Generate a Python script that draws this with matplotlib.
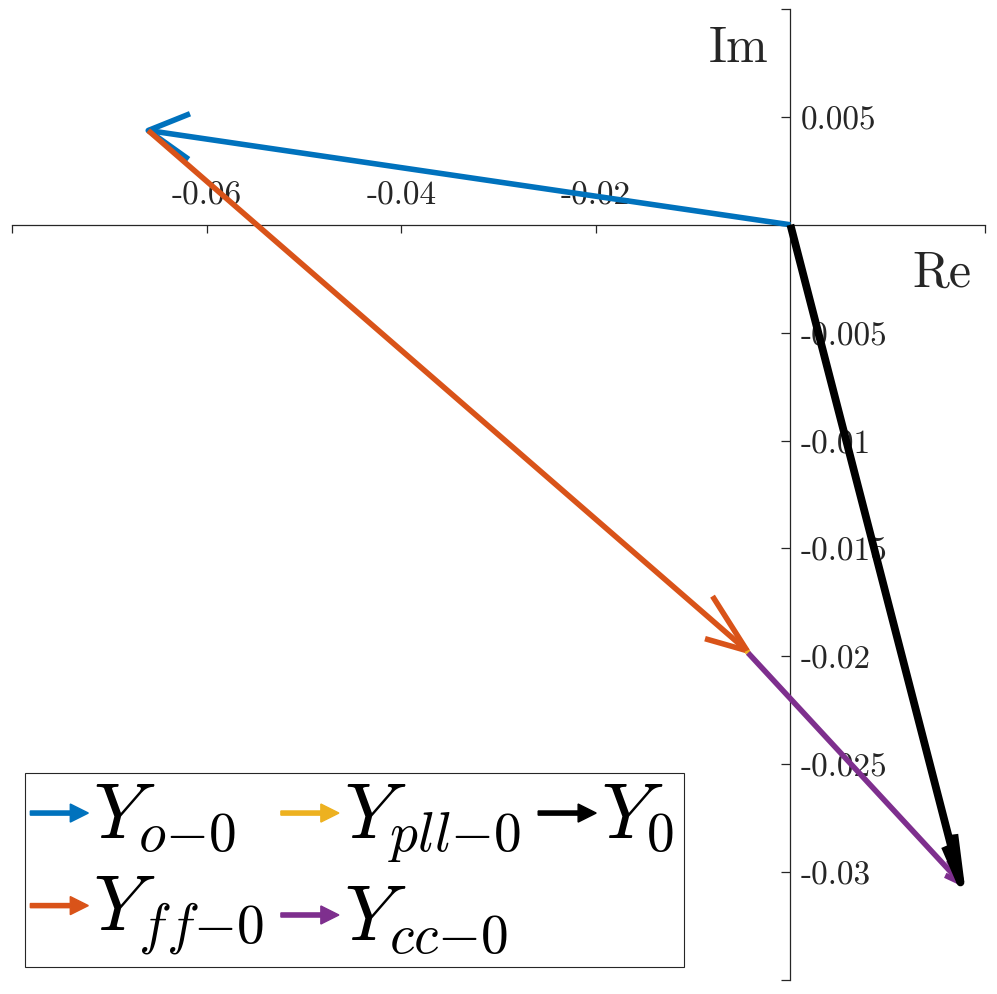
"""Phasor diagram of the zero-sequence admittance parts."""
import matplotlib
matplotlib.use("Agg")
import numpy as np
import matplotlib.pyplot as plt
import matplotlib.patches as mpatches
from matplotlib.legend_handler import HandlerBase

plt.rcParams["mathtext.fontset"] = "cm"
plt.rcParams["font.family"] = "cmr10"
plt.rcParams["axes.unicode_minus"] = False

# admittance parts, drawn head to tail
part_names = ["o", "ff", "pll", "cc"]
part_re = [-0.0660, 0.06155, 0.0001, 0.02183]
part_im = [0.00437, -0.02411, -0.0001, -0.01064]
part_colors = ["#0072BD", "#D95319", "#EDB120", "#7E2F8E"]
total_color = "black"

xticks = [-0.08, -0.06, -0.04, -0.02, 0.0, 0.02]
xtick_labels = ["", "-0.06", "-0.04", "-0.02", "", ""]
yticks = [-0.035, -0.03, -0.025, -0.02, -0.015, -0.01, -0.005, 0.0, 0.005, 0.01]
ytick_labels = ["", "-0.03", "-0.025", "-0.02", "-0.015", "-0.01", "-0.005", "", "0.005", ""]


def quiver_arrow(ax, x0, y0, u, v, color, lw, a=0.064, b=0.25):
    # shaft plus two open barbs, the way MATLAB quiver builds its head
    ax.plot([x0, x0 + u], [y0, y0 + v], color=color, lw=lw,
            solid_capstyle="butt", zorder=3)
    hx = [x0 + u - a * (u + b * v), x0 + u, x0 + u - a * (u - b * v)]
    hy = [y0 + v - a * (v - b * u), y0 + v, y0 + v - a * (v + b * u)]
    ax.plot(hx, hy, color=color, lw=lw, solid_capstyle="butt",
            solid_joinstyle="round", zorder=3)


class ArrowHandler(HandlerBase):
    def create_artists(self, legend, orig_handle, xdescent, ydescent,
                       width, height, fontsize, trans):
        y = height / 2 - ydescent - 2
        arr = mpatches.FancyArrow(-xdescent - 3, y, width + 3, 0, width=3.0,
                                  head_width=13, head_length=13,
                                  length_includes_head=True,
                                  color=orig_handle.get_facecolor(),
                                  transform=trans)
        return [arr]


fig = plt.figure(figsize=(9.97, 9.95), dpi=100)
ax = fig.add_axes([12 / 997, 14 / 995, 973 / 997, 971 / 995])
ax.set_xlim(-0.08, 0.02)
ax.set_ylim(-0.035, 0.01)

starts_re = np.concatenate([[0], np.cumsum(part_re)[:-1]])
starts_im = np.concatenate([[0], np.cumsum(part_im)[:-1]])
for x0, y0, u, v, c in zip(starts_re, starts_im, part_re, part_im, part_colors):
    quiver_arrow(ax, x0, y0, u, v, c, 4.0)
quiver_arrow(ax, 0, 0, sum(part_re), sum(part_im), total_color, 5.6)

for side in ["top", "right"]:
    ax.spines[side].set_visible(False)
ax.spines["left"].set_position(("data", 0))
ax.spines["bottom"].set_position(("data", 0))
for side in ["left", "bottom"]:
    ax.spines[side].set_color("#262626")
    ax.spines[side].set_linewidth(0.9)

ax.set_xticks(xticks)
ax.set_xticklabels(xtick_labels)
ax.set_yticks(yticks)
ax.set_yticklabels(ytick_labels)
ax.tick_params(axis="x", direction="out", length=5.8, width=0.9, pad=-20.9,
               labelsize=24, colors="#262626")
ax.tick_params(axis="y", direction="out", length=6.5, width=0.9, pad=-13.7,
               labelsize=24, colors="#262626")
for t in ax.xaxis.get_major_ticks():
    t.label1.set_va("baseline")
for t in ax.yaxis.get_major_ticks():
    t.label1.set_ha("left")

ax.text(0.9866, 0.7147, "Re", transform=ax.transAxes, ha="right",
        va="baseline", fontsize=36, color="#262626")
ax.text(-0.0023, 0.0076, "Im", ha="right", va="baseline", fontsize=36,
        color="#262626")

labels = [r"$Y_{%s{-}0}$" % n for n in part_names] + [r"$Y_0$"]
handles = [mpatches.Patch(color=c) for c in part_colors + [total_color]]
# matplotlib fills columns first, so this gives rows o, pll, 0 / ff, cc
leg = ax.legend(handles, labels,
                loc="lower left", bbox_to_anchor=(25 / 997, 27 / 995),
                bbox_transform=fig.transFigure, borderaxespad=0, ncol=3,
                fontsize=57, handlelength=0.68, handletextpad=0.06,
                columnspacing=0.27, labelspacing=0.25, borderpad=0.12,
                fancybox=False, framealpha=1, edgecolor="#262626",
                handler_map={mpatches.Patch: ArrowHandler()})
leg.get_frame().set_linewidth(0.8)

fig.savefig("out.png", dpi=100)
